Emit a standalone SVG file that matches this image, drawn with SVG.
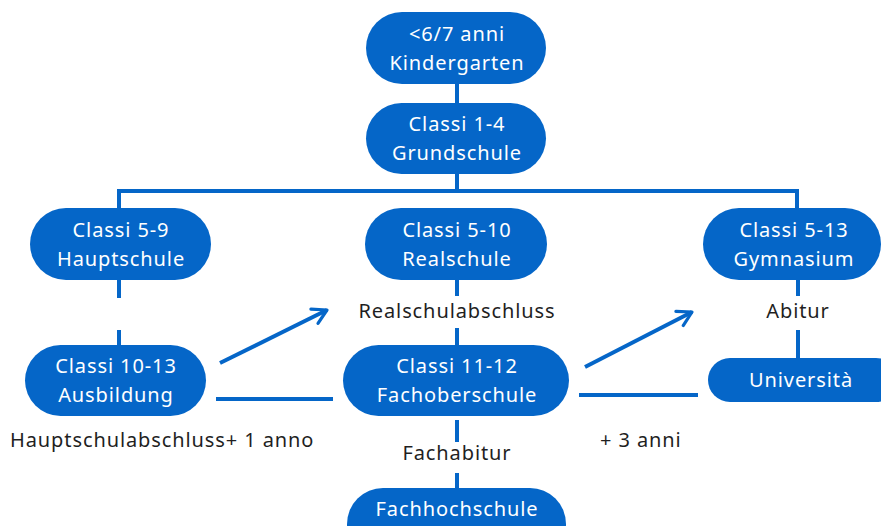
<svg xmlns="http://www.w3.org/2000/svg" width="881" height="526" viewBox="0 0 881 526">
<defs>
<style>
.n{fill:#0566c8}
.t{fill:#ffffff;font-family:"Noto Sans","Liberation Sans",sans-serif;font-size:20px;letter-spacing:0.9px;text-anchor:middle}
.l{fill:#1f1f1f;font-family:"Noto Sans","Liberation Sans",sans-serif;font-size:20px;letter-spacing:0.9px}
.c{stroke:#0566c8;stroke-width:4;fill:none}
</style>
<marker id="ah" viewBox="0 0 10 10" refX="8" refY="5" markerWidth="5" markerHeight="5" orient="auto" markerUnits="strokeWidth">
<path d="M1,1 L8,5 L1,9" fill="none" stroke="#0566c8" stroke-width="1.6" stroke-linecap="round" stroke-linejoin="round"/>
</marker>
</defs>
<rect width="881" height="526" fill="#ffffff"/>
<g id="connectors">
<path class="c" d="M457,84 V103"/>
<path class="c" d="M457,174 V191 M119,191 H797 M119,189 V208 M797,189 V208"/>
<path class="c" d="M119,280 V298 M119,330 V346"/>
<path class="c" d="M457,280 V296 M457,328 V346"/>
<path class="c" d="M457,420 V442 M457,473 V489"/>
<path class="c" d="M798,280 V296 M798,330 V359"/>
<path class="c" d="M220,363 L327,310" marker-end="url(#ah)"/>
<path class="c" d="M585,367 L692,312" marker-end="url(#ah)"/>
<path class="c" d="M216,399 H333"/>
<path class="c" d="M579,395 H698"/>
</g>
<g id="kindergarten"><rect class="n" x="366" y="12" width="180" height="72" rx="36"/><text class="t" x="457" y="41">&lt;6/7 anni</text><text class="t" x="457" y="70">Kindergarten</text></g>
<g id="grundschule"><rect class="n" x="366" y="103" width="180" height="71" rx="35.5"/><text class="t" x="457" y="131">Classi 1-4</text><text class="t" x="457" y="160">Grundschule</text></g>
<g id="hauptschule"><rect class="n" x="30" y="208" width="181" height="72" rx="36"/><text class="t" x="121" y="237">Classi 5-9</text><text class="t" x="121" y="266">Hauptschule</text></g>
<g id="realschule"><rect class="n" x="365" y="208" width="182" height="72" rx="36"/><text class="t" x="457" y="237">Classi 5-10</text><text class="t" x="457" y="266">Realschule</text></g>
<g id="gymnasium"><rect class="n" x="703" y="208" width="178" height="72" rx="36"/><text class="t" x="794" y="237">Classi 5-13</text><text class="t" x="794" y="266">Gymnasium</text></g>
<g id="ausbildung"><rect class="n" x="25" y="345" width="181" height="71" rx="35.5"/><text class="t" x="116" y="373">Classi 10-13</text><text class="t" x="116" y="402">Ausbildung</text></g>
<g id="fachoberschule"><rect class="n" x="343" y="345" width="226" height="71" rx="35.5"/><text class="t" x="457" y="373">Classi 11-12</text><text class="t" x="457" y="402">Fachoberschule</text></g>
<g id="universita"><rect class="n" x="708" y="358" width="190" height="44" rx="22"/><text class="t" x="801" y="387">Università</text></g>
<g id="fachhochschule"><rect class="n" x="347" y="488" width="219" height="72" rx="36"/><text class="t" x="457" y="516">Fachhochschule</text></g>
<g id="labels">
<text class="l" x="457" y="318" text-anchor="middle">Realschulabschluss</text>
<text class="l" x="798" y="318" text-anchor="middle">Abitur</text>
<text class="l" x="457" y="460" text-anchor="middle">Fachabitur</text>
<text class="l" x="10" y="447">Hauptschulabschluss+ 1 anno</text>
<text class="l" x="600" y="447">+ 3 anni</text>
</g>
</svg>
